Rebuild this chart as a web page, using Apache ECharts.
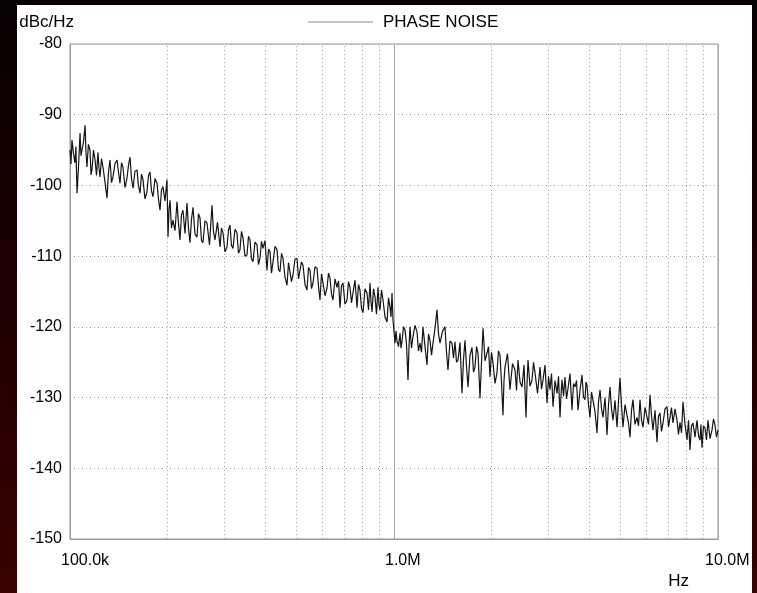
<!DOCTYPE html>
<html>
<head>
<meta charset="utf-8">
<script src="https://cdn.jsdelivr.net/npm/echarts@6/dist/echarts.min.js"></script>
<style>
  html, body { margin: 0; padding: 0; }
  body { width: 757px; height: 593px; position: relative; overflow: hidden;
         background: linear-gradient(to bottom, #060000 0%, #1c0000 45%, #3a0000 100%); }
  #chart { position: absolute; left: 17px; top: 5px; width: 735px; height: 588px; background: #ffffff; }
</style>
</head>
<body>
<div id="chart"></div>
<script>
// ---- data (frequency in kHz, phase noise in dBc/Hz) ----
const freqKHz = [
  100, 100.7, 101.4, 102.5, 103.6, 104.3, 105.1, 106.2, 107.4, 108.1,
  108.9, 110.1, 111.3, 112.0, 112.8, 114.0, 115.3, 116.1, 116.9, 118.2,
  119.5, 120.7, 122.0, 122.9, 123.8, 125.1, 126.4, 128.2, 130.1, 131.5,
  132.9, 134.3, 135.7, 137.7, 139.7, 141.2, 142.7, 144.2, 145.7, 147.8,
  149.9, 151.5, 153.2, 154.8, 156.5, 158.7, 161.0, 162.7, 164.5, 166.2,
  168.0, 170.4, 172.8, 174.7, 176.6, 178.5, 180.4, 183.0, 185.6, 187.6,
  189.6, 191.6, 193.7, 196.4, 199.2, 200.7, 202.1, 203.5, 205.7, 207.9,
  210.9, 213.9, 216.2, 218.5, 220.8, 223.2, 226.4, 229.7, 232.1, 234.6,
  237.1, 239.7, 243.1, 246.6, 249.2, 251.9, 254.6, 257.3, 261.0, 264.7,
  269.5, 274.3, 277.2, 280.2, 285.3, 290.4, 293.5, 296.6, 300.9, 305.2,
  308.4, 311.7, 315.1, 318.5, 323.0, 327.6, 331.1, 334.7, 338.3, 341.9,
  346.8, 351.8, 355.6, 359.4, 363.2, 367.1, 372.4, 377.7, 381.7, 385.8,
  390.0, 394.2, 399.8, 405.5, 409.9, 414.3, 418.7, 423.2, 429.3, 435.4,
  440.1, 444.8, 449.6, 454.4, 460.9, 467.5, 472.5, 477.5, 482.6, 487.8,
  494.8, 501.9, 507.3, 512.7, 518.2, 523.8, 531.3, 538.8, 544.6, 550.5,
  556.4, 562.3, 570.4, 578.6, 584.8, 591.0, 597.4, 603.8, 612.5, 621.2,
  627.9, 634.6, 641.4, 648.2, 657.5, 666.9, 674.1, 681.3, 688.6, 696.0,
  706.0, 716.0, 723.7, 731.5, 739.3, 747.2, 758.0, 768.8, 777.0, 785.3,
  793.8, 802.3, 813.8, 825.4, 834.3, 843.2, 849.2, 855.3, 864.5, 873.7,
  883.1, 892.5, 898.9, 905.3, 915.0, 924.8, 938.1, 951.5, 961.7, 972.0,
  978.9, 985.9, 992.9, 1007.1, 1014.3, 1021.6, 1032.6, 1043.6, 1051.0, 1058.5,
  1069.9, 1081.3, 1092.9, 1104.6, 1112.5, 1120.4, 1132.4, 1144.5, 1161.0, 1177.5,
  1190.2, 1202.9, 1215.8, 1228.8, 1246.5, 1264.3, 1277.9, 1291.5, 1305.4, 1319.4,
  1338.4, 1357.4, 1372.0, 1386.7, 1411.7, 1436.8, 1452.3, 1467.8, 1488.9, 1510.1,
  1526.4, 1542.7, 1559.3, 1575.9, 1598.6, 1621.4, 1638.8, 1656.3, 1674.1, 1692.0,
  1716.4, 1740.8, 1759.5, 1778.3, 1797.4, 1816.6, 1829.6, 1842.6, 1862.5, 1882.4,
  1909.4, 1936.5, 1957.3, 1978.2, 1999.5, 2020.9, 2049.9, 2079.0, 2101.4, 2123.8,
  2146.7, 2169.6, 2185.1, 2200.7, 2240.4, 2280.2, 2321.7, 2363.2, 2388.6, 2414.1,
  2449.0, 2483.8, 2519.6, 2555.4, 2573.7, 2592.0, 2629.3, 2666.7, 2695.4, 2724.2,
  2773.4, 2822.7, 2853.1, 2883.6, 2925.1, 2966.6, 2998.6, 3030.6, 3063.2, 3095.9,
  3140.5, 3185.1, 3219.4, 3253.8, 3276.9, 3300.1, 3335.6, 3371.1, 3407.5, 3444.0,
  3493.6, 3543.3, 3581.4, 3619.6, 3658.2, 3696.8, 3750.1, 3803.5, 3844.4, 3885.4,
  3913.5, 3941.6, 3984.0, 4026.5, 4070.0, 4113.5, 4172.8, 4232.1, 4278.1, 4324.1,
  4370.2, 4416.3, 4480.4, 4544.5, 4593.0, 4641.6, 4691.6, 4741.6, 4810.0, 4878.4,
  4931.0, 4983.5, 5037.2, 5091.0, 5164.2, 5237.5, 5294.1, 5350.7, 5408.2, 5465.7,
  5544.5, 5623.4, 5684.1, 5744.8, 5806.7, 5868.6, 5953.1, 6037.7, 6102.7, 6167.8,
  6234.1, 6300.5, 6391.4, 6482.4, 6552.2, 6622.1, 6693.3, 6764.6, 6862.1, 6959.7,
  7034.7, 7109.7, 7186.1, 7262.6, 7367.4, 7472.2, 7552.6, 7633.0, 7715.4, 7797.9,
  7910.3, 8022.7, 8109.1, 8195.6, 8283.8, 8372.1, 8492.8, 8613.6, 8706.4, 8799.2,
  8862.1, 8925.1, 9021.3, 9117.5, 9215.6, 9313.8, 9448.0, 9582.3, 9685.6, 9789.0,
  9894.5, 10000
];
const phaseNoise = [
  -95.0, -97.0, -93.6, -95.5, -96.8, -94.5, -101.1, -97.5, -92.6, -95.8,
  -96.0, -93.8, -91.5, -95.2, -97.4, -94.2, -95.0, -98.5, -97.8, -95.0,
  -96.4, -98.6, -95.3, -97.6, -98.8, -96.2, -97.4, -99.5, -101.8, -98.0,
  -96.4, -99.6, -98.8, -96.9, -96.4, -98.2, -99.7, -96.8, -97.4, -100.3,
  -99.0, -97.2, -96.0, -99.0, -100.4, -98.0, -97.8, -100.1, -101.1, -98.4,
  -99.2, -101.9, -100.9, -98.6, -98.1, -100.8, -101.6, -99.0, -99.7, -102.0,
  -103.5, -100.6, -100.2, -102.2, -99.2, -107.3, -103.4, -102.1, -106.0, -104.9,
  -106.4, -102.3, -105.4, -107.7, -104.2, -103.5, -106.8, -102.5, -106.0, -108.1,
  -104.8, -103.1, -106.9, -107.3, -104.0, -104.6, -107.8, -108.1, -105.0, -105.3,
  -108.4, -102.8, -106.5, -107.7, -105.2, -108.7, -106.0, -106.7, -109.4, -108.7,
  -106.3, -105.6, -108.5, -108.9, -106.2, -106.7, -109.6, -109.1, -106.5, -107.4,
  -110.0, -109.8, -107.2, -107.7, -110.4, -110.8, -108.0, -108.4, -111.2, -110.3,
  -107.9, -108.9, -107.8, -112.0, -109.0, -109.4, -112.4, -110.8, -108.6, -109.1,
  -111.9, -112.2, -109.6, -110.3, -113.0, -114.1, -110.9, -110.8, -113.6, -112.7,
  -110.4, -110.3, -113.2, -113.4, -110.8, -111.3, -114.0, -114.8, -111.6, -112.0,
  -114.6, -113.8, -111.5, -111.7, -114.3, -116.2, -112.5, -112.7, -115.6, -114.5,
  -112.4, -113.1, -115.4, -116.2, -113.2, -114.4, -113.5, -117.3, -114.2, -113.8,
  -116.8, -116.2, -113.6, -114.4, -116.6, -115.2, -113.4, -117.3, -114.0, -114.8,
  -117.4, -118.0, -114.6, -115.2, -117.6, -113.8, -116.4, -117.9, -114.6, -115.8,
  -118.2, -114.4, -116.9, -117.6, -114.8, -116.2, -118.6, -119.3, -115.9, -117.2,
  -118.6, -115.2, -119.0, -122.3, -120.6, -122.0, -122.8, -120.9, -123.0, -122.1,
  -120.0, -120.4, -122.4, -127.5, -122.8, -120.0, -123.0, -121.4, -119.8, -120.7,
  -123.4, -122.3, -123.6, -120.0, -122.8, -125.4, -121.0, -121.9, -124.0, -122.3,
  -120.2, -117.6, -121.0, -122.3, -120.6, -120.0, -123.6, -126.1, -122.0, -122.3,
  -124.4, -122.1, -125.0, -124.7, -122.2, -129.4, -124.6, -121.9, -125.6, -128.5,
  -124.0, -122.9, -126.4, -125.7, -122.8, -123.7, -126.8, -130.1, -125.0, -120.2,
  -124.8, -123.7, -122.8, -127.1, -123.6, -125.1, -128.0, -126.5, -123.4, -124.0,
  -127.8, -132.5, -127.6, -125.7, -123.8, -128.9, -125.2, -126.1, -129.0, -124.7,
  -127.8, -128.5, -125.4, -132.8, -128.0, -124.7, -128.4, -127.5, -125.0, -126.5,
  -129.4, -125.7, -128.8, -127.5, -125.4, -130.8, -127.0, -128.9, -126.6, -131.3,
  -127.6, -129.4, -127.0, -132.8, -129.6, -127.5, -129.8, -127.1, -130.2, -128.7,
  -126.6, -131.8, -128.0, -128.5, -127.6, -131.8, -129.0, -126.8, -129.9, -130.3,
  -127.8, -128.2, -131.0, -132.8, -129.2, -129.4, -132.0, -135.0, -130.6, -128.9,
  -131.6, -132.8, -130.0, -135.3, -131.0, -128.5, -131.6, -133.2, -130.4, -134.2,
  -130.6, -127.2, -131.2, -134.2, -131.0, -130.8, -133.6, -135.6, -131.8, -130.3,
  -133.8, -132.8, -134.0, -130.3, -133.2, -134.2, -131.4, -131.3, -133.8, -129.6,
  -132.6, -134.6, -131.8, -136.3, -132.6, -132.2, -134.8, -133.6, -131.6, -131.3,
  -134.2, -132.8, -131.4, -133.6, -131.6, -133.2, -135.2, -133.5, -135.0, -130.6,
  -133.8, -136.0, -133.2, -137.4, -134.0, -133.6, -135.6, -133.2, -135.4, -136.0,
  -133.8, -137.1, -134.0, -134.3, -136.0, -133.2, -135.8, -134.6, -133.0, -133.9,
  -135.6, -134.6
];
const xTickValues = [1e5, 1e6, 1e7];
const xTickLabels = ['100.0k', '1.0M', '10.0M'];
const minorGridFreqs = [2e5, 3e5, 4e5, 5e5, 6e5, 7e5, 8e5, 9e5, 2e6, 3e6, 4e6, 5e6, 6e6, 7e6, 8e6, 9e6];
const seriesName = 'PHASE NOISE';
const yUnit = 'dBc/Hz';
const xUnit = 'Hz';

const points = freqKHz.map((f, i) => [f * 1000, phaseNoise[i]]);
const FONT = '"Liberation Sans", Arial, sans-serif';

const chart = echarts.init(document.getElementById('chart'), null, { renderer: 'canvas' });
chart.setOption({
  animation: false,
  backgroundColor: '#ffffff',
  textStyle: { fontFamily: FONT, color: '#000' },
  grid: { left: 53, top: 39, right: 34, bottom: 54, show: true, borderColor: '#999', borderWidth: 1,
          containLabel: false, outerBoundsMode: 'none' },
  legend: {
    left: 291, top: 8, padding: 0,
    icon: 'rect', itemWidth: 65, itemHeight: 2, itemGap: 10,
    itemStyle: { color: '#c4c4c4' }, lineStyle: { color: '#c4c4c4' },
    textStyle: { fontFamily: FONT, fontSize: 17, color: '#000', lineHeight: 18, padding: [0, 0, 0, 5] },
    data: [seriesName]
  },
  xAxis: {
    type: 'log', logBase: 10, min: 1e5, max: 1e7,
    name: xUnit, nameLocation: 'end', nameGap: 0,
    nameTextStyle: { fontFamily: FONT, fontSize: 17, color: '#000', align: 'right', verticalAlign: 'top', padding: [34, 29, 0, 0] },
    axisLine: { show: true, lineStyle: { color: '#999', width: 1 } },
    axisTick: { show: false },
    axisLabel: {
      show: true, margin: 14, fontFamily: FONT, fontSize: 16, color: '#000', align: 'left',
      padding: [0, 0, 0, -9], showMinLabel: true, showMaxLabel: true, hideOverlap: false,
      formatter: v => {
        const i = xTickValues.findIndex(t => Math.abs(t - v) / t < 1e-6);
        if (i < 0) return '';
        return i === xTickValues.length - 1 ? '{last|' + xTickLabels[i] + '}' : xTickLabels[i];
      },
      rich: { last: { fontFamily: FONT, fontSize: 16, color: '#000', padding: [0, 0, 0, -4] } }
    },
    splitLine: { show: true, lineStyle: { color: '#aaa', width: 1, type: 'solid' } },
    minorTick: { show: false }, minorSplitLine: { show: false }
  },
  yAxis: {
    type: 'value', min: -150, max: -80, interval: 10,
    name: yUnit, nameLocation: 'end', nameGap: 22,
    nameTextStyle: { fontFamily: FONT, fontSize: 17, color: '#000', align: 'right', verticalAlign: 'middle', padding: [0, -4, 0, 0] },
    axisLine: { show: true, lineStyle: { color: '#999', width: 1 } },
    axisTick: { show: false },
    axisLabel: { margin: 8, fontFamily: FONT, fontSize: 16, color: '#000' },
    splitLine: { show: true, lineStyle: { color: '#999', width: 1, type: [1, 3] } }
  },
  series: [
    {
      name: 'grid-minor', type: 'line', data: [], silent: true,
      markLine: {
        silent: true, symbol: ['none', 'none'], z: 1, animation: false,
        label: { show: false },
        lineStyle: { color: '#999', width: 1, type: [1, 3] },
        emphasis: { disabled: true },
        data: minorGridFreqs.map(f => ({ xAxis: f }))
      }
    },
    {
      name: seriesName, type: 'line', data: points, z: 3,
      showSymbol: false, symbol: 'none',
      lineStyle: { color: '#151515', width: 1.2 },
      itemStyle: { color: '#c4c4c4' },
      emphasis: { disabled: true }
    }
  ]
});
</script>
</body>
</html>
